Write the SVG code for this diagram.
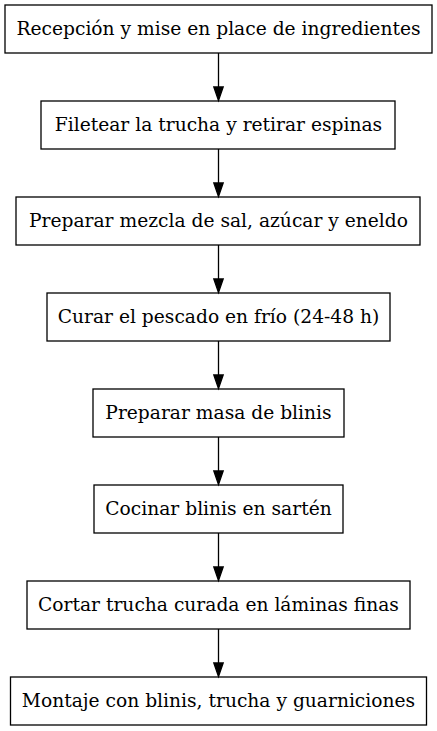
<svg xmlns="http://www.w3.org/2000/svg" width="437" height="731" viewBox="0 0 437 731">
<style>
.n rect{fill:#fff;stroke:#000;stroke-width:1.3}
.n text{font-family:"DejaVu Serif",serif;font-size:18.67px;text-anchor:middle;fill:#000}
.e line{stroke:#000;stroke-width:1.3}
.e polygon{fill:#000;stroke:#000;stroke-width:1.3}
</style>
<rect width="437" height="731" fill="#fff"/>
<g id="n1" class="n"><rect x="5" y="5" width="427" height="48"/><text x="218.5" y="34.5">Recepción y mise en place de ingredientes</text></g>
<g id="n2" class="n"><rect x="41" y="101" width="354" height="48"/><text x="218.5" y="130.5">Filetear la trucha y retirar espinas</text></g>
<g id="n3" class="n"><rect x="16" y="197" width="404" height="48"/><text x="218.5" y="226.5">Preparar mezcla de sal, azúcar y eneldo</text></g>
<g id="n4" class="n"><rect x="47" y="293" width="343" height="48"/><text x="218.5" y="322.5">Curar el pescado en frío (24-48 h)</text></g>
<g id="n5" class="n"><rect x="93" y="389" width="251" height="48"/><text x="218.5" y="418.5">Preparar masa de blinis</text></g>
<g id="n6" class="n"><rect x="94" y="485" width="249" height="48"/><text x="218.5" y="514.5">Cocinar blinis en sartén</text></g>
<g id="n7" class="n"><rect x="27" y="581" width="383" height="48"/><text x="218.5" y="610.5">Cortar trucha curada en láminas finas</text></g>
<g id="n8" class="n"><rect x="10.5" y="677" width="416" height="48"/><text x="218.5" y="706.5">Montaje con blinis, trucha y guarniciones</text></g>
<g id="edges" class="e">
<line x1="218.5" y1="53" x2="218.5" y2="87"/><polygon points="213.8,87 223.2,87 218.5,100.5"/>
<line x1="218.5" y1="149" x2="218.5" y2="183"/><polygon points="213.8,183 223.2,183 218.5,196.5"/>
<line x1="218.5" y1="245" x2="218.5" y2="279"/><polygon points="213.8,279 223.2,279 218.5,292.5"/>
<line x1="218.5" y1="341" x2="218.5" y2="375"/><polygon points="213.8,375 223.2,375 218.5,388.5"/>
<line x1="218.5" y1="437" x2="218.5" y2="471"/><polygon points="213.8,471 223.2,471 218.5,484.5"/>
<line x1="218.5" y1="533" x2="218.5" y2="567"/><polygon points="213.8,567 223.2,567 218.5,580.5"/>
<line x1="218.5" y1="629" x2="218.5" y2="663"/><polygon points="213.8,663 223.2,663 218.5,676.5"/>
</g>
</svg>
